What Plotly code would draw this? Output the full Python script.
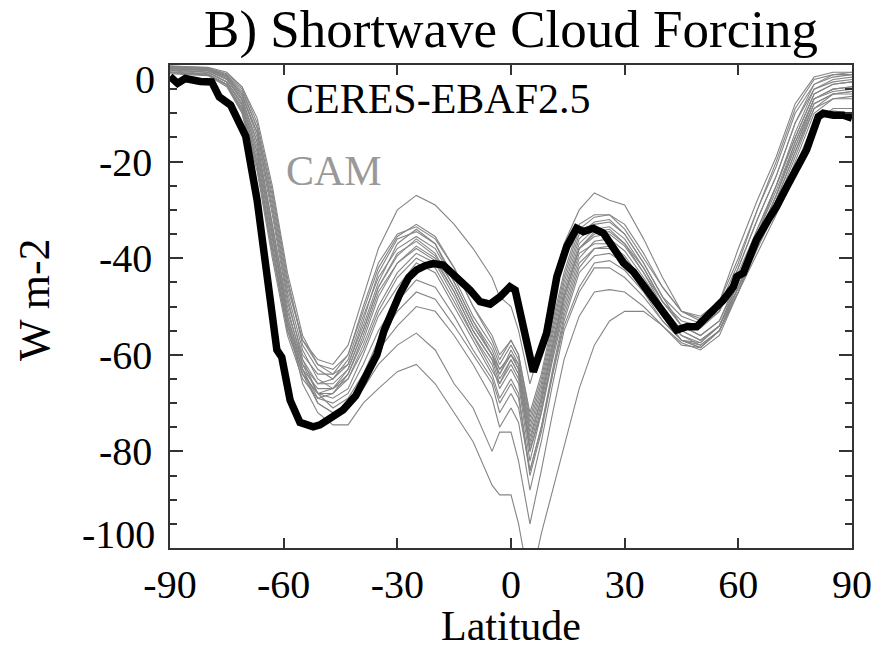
import plotly.graph_objects as go

# ---------------- data ----------------
CERES_LAT = [-90, -88, -86, -84, -82, -79, -77, -74, -71.5, -70, -67, -65.4, -63.6, -61.8, -60.5,
             -58.3, -55.7, -52.2, -50.4, -47.5, -44.3, -41, -38, -35.4, -33.5, -31, -29.3, -27,
             -24.9, -22.5, -20.5, -17.9, -15.5, -13.5, -10.8, -8.2, -5.5, -2.9, -0.3, 1.1, 5.9,
             9.4, 12.1, 14.7, 17.3, 19.1, 21.7, 24.4, 27, 29.7, 32.3, 35.8, 39.3, 41.5, 43.7,
             46.4, 49, 52.5, 56, 58.7, 59.6, 61.3, 64.8, 68.4, 70.1, 72.8, 74.6, 78, 81.1, 82.4,
             85.1, 87.7, 90]
CERES_SWCF = [-2.4, -3.8, -2.8, -3.2, -3.4, -3.5, -6.6, -8.3, -12, -14.8, -28, -38.3, -48.7, -59,
              -60.5, -69.4, -74, -74.9, -74.5, -73, -71.4, -68.5, -64, -60, -55, -50, -47.3, -44,
              -42.4, -41.5, -41.1, -41.4, -43, -44.5, -46.6, -49, -49.5, -48, -45.9, -46.6, -63.5,
              -55.5, -43.8, -37.6, -33.8, -34.5, -33.8, -34.8, -37.6, -41, -42.8, -46.5, -50.5,
              -53, -54.9, -54.2, -54.2, -51.4, -48.7, -45.9, -43.8, -43.1, -36.2, -31.4, -29.3,
              -25.2, -22.4, -17.6, -10.7, -10, -10.4, -10.4, -11]

CAM_LAT = [-90, -80, -75, -71, -67, -63, -59, -55, -51, -47, -43, -39, -35, -30, -25, -20, -15,
           -10, -5, -3, 0, 2, 5, 8, 11, 14, 18, 22, 26, 30, 35, 40, 45, 50, 55, 60, 65, 70, 75,
           80, 85, 90]

CAM_01 = [-0.3, -0.8, -2, -5, -13, -28, -46, -57, -61, -62, -58, -48, -38, -30, -27, -29, -33, -38, -44, -48, -50, -55, -66, -58, -46, -37, -30, -26.5, -28, -29, -36, -44, -51, -53, -50, -41, -30, -20, -9, -3, -2, -2]
CAM_02 = [-0.5, -1, -2.5, -6, -15, -31, -49, -60, -64, -64, -60, -50, -41, -35, -33.5, -36, -42, -50, -56, -60, -57, -60, -72, -64, -53, -43, -33, -31, -31, -33, -39, -46, -51, -52.5, -49, -40, -30, -21, -10, -4, -2, -1.5]
CAM_03 = [-0.2, -0.6, -1.8, -4.5, -12, -26, -44, -58, -63, -65, -62, -53, -43, -36, -34.5, -37, -44, -52, -58, -62, -58, -61, -74, -66, -55, -45, -35, -32.5, -32, -35, -41, -48, -52, -53.5, -51, -42, -32, -23, -12, -5, -3, -2.5]
CAM_04 = [-1, -1.5, -3.5, -8, -18, -35, -52, -62, -66, -65, -61, -52, -44, -38, -35.5, -38, -45, -53, -59, -63, -60, -62, -76, -68, -57, -47, -37, -34, -33.5, -36, -42, -49, -54, -54.5, -51, -43, -34, -25, -15, -6, -4, -3.5]
CAM_05 = [-0.8, -1.2, -3, -7, -16, -33, -51, -61, -66, -66, -63, -55, -46, -39, -36.5, -39.5, -46, -54, -60, -65, -61, -64, -78, -69, -58, -48, -38, -35.5, -35, -37.5, -43, -49, -54, -56, -53, -45, -36, -27, -17, -7, -5, -4.5]
CAM_06 = [-1.5, -2, -4, -9, -20, -37, -54, -63, -67, -67, -64, -57, -48, -41, -37.5, -40, -47, -55, -61, -66, -62, -65, -80, -71, -60, -50, -40, -36.5, -36, -38.5, -44, -50, -55, -57, -54, -46, -38, -29, -19, -9, -6, -6]
CAM_07 = [-0.5, -1, -2.5, -6.5, -14, -29, -47, -59, -65, -67, -65, -58, -50, -43, -39, -41, -48, -56, -62, -67, -63, -66, -82, -72, -60, -49, -39, -37, -37, -39.5, -45, -51, -56, -57.5, -54, -46, -37, -28, -18, -8, -6, -5.5]
CAM_08 = [-1.2, -1.8, -4, -9.5, -21, -39, -55, -64, -68, -68, -65, -59, -51, -44, -40, -42, -49, -56, -63, -66, -61, -64, -79, -70, -59, -48, -38, -34.5, -34, -37, -42, -49, -53, -54, -51, -42, -32, -23, -12, -4, -2.5, -2]
CAM_09 = [-0.3, -0.8, -2.2, -5.5, -13, -27, -45, -57, -62, -63, -60, -51, -42, -35.5, -33, -35.5, -42, -50, -57, -61, -57, -60, -73, -65, -54, -44, -34, -31.5, -31, -34, -40, -46, -51, -52, -49, -38, -28, -19, -8, -2.5, -1.5, -1.5]
CAM_10 = [-1.8, -2.2, -4.5, -10, -22, -40, -56, -65, -69, -68, -64, -56, -47, -41, -38, -40.5, -47, -55, -61, -64, -60, -63, -77, -69, -58, -48, -38, -35, -34.5, -37, -43, -50, -55, -57, -54, -45, -35, -26, -16, -7, -5.5, -5]
CAM_11 = [-0.6, -1.1, -2.8, -7, -16, -33, -50, -62, -68, -69, -67, -60, -52, -46, -41, -43, -50, -57, -64, -69, -65, -68, -84, -75, -63, -52, -42, -38, -37.5, -40, -46, -52, -56, -58, -55, -47, -38, -30, -20, -10, -7, -6.5]
CAM_12 = [-1, -1.5, -3.5, -8.5, -19, -36, -53, -63, -69, -70, -68, -62, -55, -49, -44.5, -46, -52, -59, -65, -70, -66, -69, -85, -76, -64, -53, -43, -39.5, -39, -41, -46, -52, -57, -58.5, -55, -46, -36, -27, -16, -7, -5, -4.5]
CAM_13 = [-0.4, -0.9, -2.3, -6, -14, -30, -48, -61, -68, -71, -69, -64, -57, -51, -47, -48.5, -54, -60, -66, -72, -68, -71, -84, -75, -64, -54, -46, -41, -40.5, -42.5, -47, -53, -57, -58, -55, -47, -39, -31, -22, -12, -9, -9]
CAM_14 = [-1.4, -1.9, -4, -9, -20, -38, -54, -64, -70, -72, -70, -66, -59, -54, -50, -51, -56, -62, -69, -75, -71, -74, -88, -78, -66, -55, -47, -42, -42, -44, -48, -53, -57, -57.5, -54, -45, -35, -25, -14, -5, -3.5, -3]
CAM_15 = [-0.7, -1.2, -3, -7.5, -17, -34, -52, -63, -70, -72, -71, -67, -62, -58, -55.5, -59, -66, -71, -80, -76, -76, -82, -95, -84, -72, -61, -52, -47, -46.5, -47, -50, -54, -58, -58.5, -55, -46, -36, -27, -17, -8, -6, -5.5]
CAM_16 = [-1, -1.5, -3.5, -8, -18, -35, -53, -66, -72, -74.5, -74.5, -70, -67, -63.5, -62, -66, -72, -78, -87, -89, -89, -95, -108, -97, -88, -79, -67, -58, -53, -51, -51, -54, -57.5, -59, -56, -47, -37, -28, -18, -9, -7, -7]
CAM_17 = [-0.2, -0.5, -1.5, -4.5, -11, -25, -43, -56, -62, -64, -62, -54, -45, -37, -34, -37, -45, -53, -60, -64, -59, -62, -75, -67, -56, -46, -36, -33, -32.5, -35, -41, -48, -54, -56, -53, -44, -34, -25, -15, -6, -4, -3.5]
CAM_18 = [-1.6, -2.1, -4.2, -9.8, -21, -38, -55, -64, -68, -67, -63, -55, -46, -39.5, -36, -39, -46, -54, -60, -63, -60, -63, -80, -72, -61, -51, -41, -38, -38, -40.5, -46, -52, -57, -58.5, -55, -47, -37, -29, -21, -12, -9.5, -10]

CAM_RUNS = [CAM_01, CAM_02, CAM_03, CAM_04, CAM_05, CAM_06, CAM_07, CAM_08, CAM_09,
            CAM_10, CAM_11, CAM_12, CAM_13, CAM_14, CAM_15, CAM_16, CAM_17, CAM_18]

X_TICKS = [-90, -60, -30, 0, 30, 60, 90]
X_TICKTEXT = ["-90", "-60", "-30", "0", "30", "60", "90"]
Y_TICKS = [-100, -80, -60, -40, -20, 0]
Y_TICKTEXT = ["", "-80", "-60", "-40", "-20", ""]

TITLE = "B) Shortwave Cloud Forcing"
FONT = "Liberation Serif"

# ---------------- figure ----------------
fig = go.Figure()
for run in CAM_RUNS:
    fig.add_trace(go.Scatter(x=CAM_LAT, y=run, mode="lines",
                             line=dict(color="#858585", width=1.1),
                             hoverinfo="skip"))
fig.add_trace(go.Scatter(x=CERES_LAT, y=CERES_SWCF, mode="lines",
                         line=dict(color="black", width=7.5)))

axis_common = dict(showgrid=False, zeroline=False, showline=True, linecolor="#333333",
                   linewidth=1.5, mirror="ticks", ticks="inside", tickcolor="#333333",
                   tickwidth=1.5, tickfont=dict(family=FONT, size=40, color="black"))

fig.update_xaxes(range=[-90, 90], tickvals=X_TICKS, ticktext=X_TICKTEXT, ticklen=10,
                 ticklabelstandoff=0, **axis_common)
fig.update_yaxes(range=[-100, 0], tickvals=Y_TICKS, ticktext=Y_TICKTEXT, ticklen=13,
                 ticklabelstandoff=8,
                 minor=dict(dtick=5, ticklen=7, ticks="inside", tickcolor="#333333",
                            tickwidth=1.5),
                 **axis_common)

W, H = 892, 650
L, R, T, B = 170, 40, 65, 102
pw, ph = W - L - R, H - T - B


def px(xp):
    return (xp - L) / pw


def py(yp):
    return (H - B - yp) / ph


annotations = [
    dict(text="CERES-EBAF2.5", x=px(284), y=py(99), xref="paper", yref="paper",
         xanchor="left", yanchor="middle", showarrow=False,
         font=dict(family=FONT, size=42, color="black")),
    dict(text="CAM", x=px(284), y=py(171), xref="paper", yref="paper",
         xanchor="left", yanchor="middle", showarrow=False,
         font=dict(family=FONT, size=42, color="#999999")),
    dict(text="0", x=px(157), y=py(79), xref="paper", yref="paper",
         xanchor="right", yanchor="middle", showarrow=False,
         font=dict(family=FONT, size=40, color="black")),
    dict(text="-100", x=px(157), y=py(534), xref="paper", yref="paper",
         xanchor="right", yanchor="middle", showarrow=False,
         font=dict(family=FONT, size=40, color="black")),
    dict(text="Latitude", x=0.5, y=py(626), xref="paper", yref="paper",
         xanchor="center", yanchor="middle", showarrow=False,
         font=dict(family=FONT, size=42, color="black")),
    dict(text="W m-2", x=px(34), y=py(300), xref="paper", yref="paper",
         xanchor="center", yanchor="middle", showarrow=False, textangle=-90,
         font=dict(family=FONT, size=44, color="black")),
]

fig.update_layout(
    width=W, height=H,
    margin=dict(l=L, r=R, t=T, b=B),
    plot_bgcolor="white", paper_bgcolor="white",
    showlegend=False,
    title=dict(text=TITLE, x=0.5, xref="paper", y=1 - 28 / H, yref="container",
               xanchor="center", yanchor="middle",
               font=dict(family=FONT, size=53, color="black")),
    annotations=annotations,
)

fig.write_html("out.html")
